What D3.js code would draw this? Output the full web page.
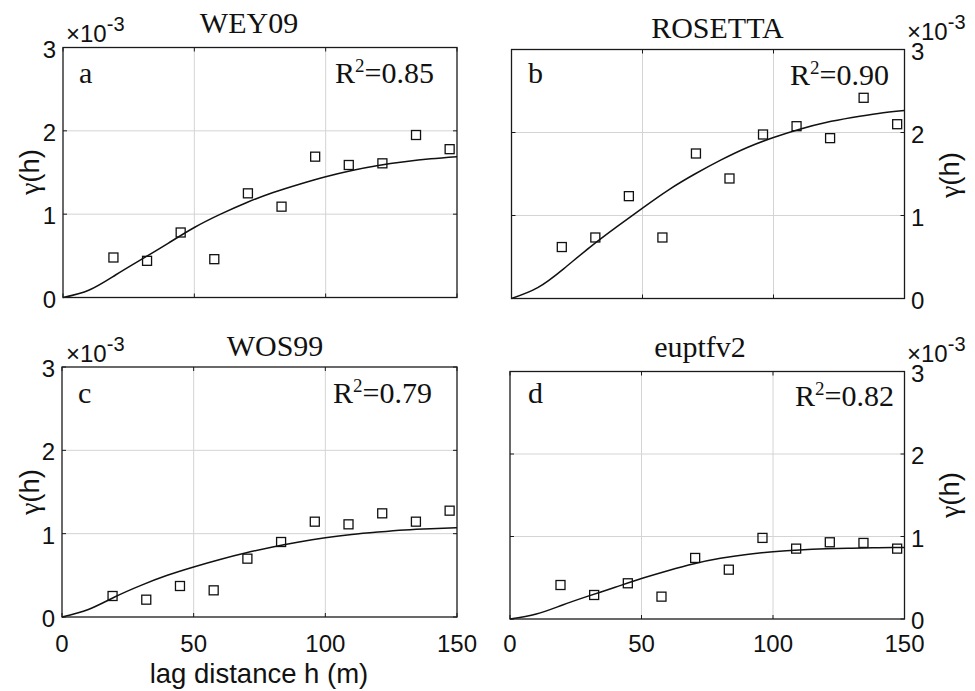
<!DOCTYPE html>
<html>
<head>
<meta charset="utf-8">
<script src="https://cdn.jsdelivr.net/npm/d3@7/dist/d3.min.js"></script>
<style>
  html, body { margin: 0; padding: 0; background: #fff; }
  svg { display: block; }
  .sans { font-family: "Liberation Sans", Arial, Helvetica, sans-serif; }
  .serif { font-family: "Liberation Serif", "Times New Roman", Times, serif; }
</style>
</head>
<body>
<svg id="chart" width="975" height="691"></svg>
<script>
// ---------------- data (semivariance in units of 1e-3) ----------------
const lags = [19.2, 32.0, 44.8, 57.6, 70.4, 83.2, 96.0, 108.8, 121.6, 134.4, 147.2];

const expWEY09    = [0.48, 0.44, 0.78, 0.46, 1.25, 1.09, 1.69, 1.59, 1.61, 1.95, 1.78];
const expROSETTA  = [0.62, 0.735, 1.233, 0.735, 1.747, 1.446, 1.976, 2.076, 1.932, 2.418, 2.10];
const expWOS99    = [0.252, 0.208, 0.372, 0.32, 0.70, 0.90, 1.144, 1.112, 1.244, 1.144, 1.276];
const expEUPTFV2  = [0.412, 0.291, 0.433, 0.271, 0.74, 0.598, 0.983, 0.853, 0.93, 0.922, 0.853];

const modelH        = [0, 10, 20, 30, 40, 50, 60, 70, 80, 90, 100, 110, 120, 130, 140, 150];
const modelWEY09    = [0, 0.09, 0.27, 0.46, 0.65, 0.84, 1.00, 1.14, 1.26, 1.36, 1.45, 1.525, 1.585, 1.63, 1.665, 1.69];
const modelROSETTA  = [0, 0.13, 0.36, 0.62, 0.86, 1.09, 1.31, 1.50, 1.67, 1.82, 1.94, 2.04, 2.12, 2.18, 2.23, 2.265];
const modelWOS99    = [0, 0.09, 0.24, 0.38, 0.50, 0.60, 0.69, 0.77, 0.84, 0.90, 0.95, 0.99, 1.02, 1.045, 1.06, 1.07];
const modelEUPTFV2  = [0, 0.06, 0.17, 0.28, 0.385, 0.49, 0.585, 0.67, 0.735, 0.783, 0.815, 0.837, 0.851, 0.859, 0.864, 0.866];

const titles   = ["WEY09", "ROSETTA", "WOS99", "euptfv2"];
const letters  = ["a", "b", "c", "d"];
const r2Values = ["0.85", "0.90", "0.79", "0.82"];

const xTicks = [0, 50, 100, 150];
const yTicks = [0, 1, 2, 3];
const xDomain = [0, 150];
const yDomain = [0, 3];
const yExponent = "-3";
const xLabel = "lag distance h (m)";

// ---------------- layout ----------------
const layout = [
  { left: 63,    right: 457,   top: 47.5,  bottom: 297.5, side: "left",  xticks: false, xtitle: false,
    title: [249, 33],    letter: [79, 83],   r2: [335, 83],   expo: [66, 41.7],   ylab: [33, 172] },
  { left: 511.5, right: 904.5, top: 49.5,  bottom: 298.5, side: "right", xticks: false, xtitle: false,
    title: [717.5, 38],  letter: [528, 83],  r2: [790, 85],   expo: [907, 40.2],  ylab: [953, 175] },
  { left: 62,    right: 457,   top: 367,   bottom: 617,   side: "left",  xticks: true,  xtitle: true,
    title: [275, 355.5], letter: [78, 403],  r2: [333, 403],  expo: [66, 361.7],  ylab: [33, 492] },
  { left: 510,   right: 904.5, top: 371.5, bottom: 619,   side: "right", xticks: true,  xtitle: false,
    title: [700, 357.3], letter: [528, 403], r2: [795, 405.5],expo: [907, 362],   ylab: [953, 495] }
];
const expSeries = [expWEY09, expROSETTA, expWOS99, expEUPTFV2];
const modelSeries = [modelWEY09, modelROSETTA, modelWOS99, modelEUPTFV2];

const svg = d3.select("#chart");
const axisColor = "#1a1a1a";
const gridColor = "#d4d4d4";
const tickLen = 4;

layout.forEach((L, i) => {
  const x = d3.scaleLinear().domain(xDomain).range([L.left, L.right]);
  const y = d3.scaleLinear().domain(yDomain).range([L.bottom, L.top]);
  const g = svg.append("g");

  // grid
  g.selectAll(".gx").data(xTicks.filter(t => t > xDomain[0] && t < xDomain[1])).enter()
    .append("line").attr("x1", d => x(d)).attr("x2", d => x(d))
    .attr("y1", L.top).attr("y2", L.bottom)
    .attr("stroke", gridColor).attr("stroke-width", 1);
  g.selectAll(".gy").data(yTicks.filter(t => t > yDomain[0] && t < yDomain[1])).enter()
    .append("line").attr("y1", d => y(d)).attr("y2", d => y(d))
    .attr("x1", L.left).attr("x2", L.right)
    .attr("stroke", gridColor).attr("stroke-width", 1);

  // inner ticks (all four sides)
  const tickG = g.append("g").attr("stroke", axisColor).attr("stroke-width", 1);
  xTicks.forEach(t => {
    tickG.append("line").attr("x1", x(t)).attr("x2", x(t)).attr("y1", L.bottom).attr("y2", L.bottom - tickLen);
    tickG.append("line").attr("x1", x(t)).attr("x2", x(t)).attr("y1", L.top).attr("y2", L.top + tickLen);
  });
  yTicks.forEach(t => {
    tickG.append("line").attr("y1", y(t)).attr("y2", y(t)).attr("x1", L.left).attr("x2", L.left + tickLen);
    tickG.append("line").attr("y1", y(t)).attr("y2", y(t)).attr("x1", L.right).attr("x2", L.right - tickLen);
  });

  // model curve
  const line = d3.line().x(d => x(d[0])).y(d => y(d[1])).curve(d3.curveNatural);
  g.append("path")
    .datum(modelH.map((h, k) => [h, modelSeries[i][k]]))
    .attr("d", line)
    .attr("fill", "none").attr("stroke", "#111").attr("stroke-width", 1.5);

  // experimental points (open squares)
  const s = 9;
  g.selectAll(".pt").data(lags.map((h, k) => [h, expSeries[i][k]])).enter()
    .append("rect")
    .attr("x", d => x(d[0]) - s / 2).attr("y", d => y(d[1]) - s / 2)
    .attr("width", s).attr("height", s)
    .attr("fill", "none").attr("stroke", "#111").attr("stroke-width", 1.3);

  // box
  g.append("rect").attr("x", L.left).attr("y", L.top)
    .attr("width", L.right - L.left).attr("height", L.bottom - L.top)
    .attr("fill", "none").attr("stroke", axisColor).attr("stroke-width", 1.3);

  // y tick labels
  const yl = g.append("g").attr("class", "sans").attr("font-size", 24).attr("fill", "#111");
  yTicks.forEach(t => {
    yl.append("text")
      .attr("x", L.side === "left" ? L.left - 7 : L.right + 6.5)
      .attr("y", y(t) + 10)
      .attr("text-anchor", L.side === "left" ? "end" : "start")
      .text(String(t));
  });

  // x tick labels
  if (L.xticks) {
    const xl = g.append("g").attr("class", "sans").attr("font-size", 24).attr("fill", "#111");
    xTicks.forEach(t => {
      xl.append("text").attr("x", x(t)).attr("y", 652).attr("text-anchor", "middle").text(String(t));
    });
  }
  if (L.xtitle) {
    g.append("text").attr("class", "sans").attr("font-size", 27.5).attr("fill", "#111")
      .attr("x", (L.left + L.right) / 2 - 0.5).attr("y", 683).attr("text-anchor", "middle")
      .text(xLabel);
  }

  // exponent label
  const ex = g.append("text").attr("class", "sans").attr("fill", "#111")
    .attr("x", L.expo[0]).attr("y", L.expo[1]);
  ex.append("tspan").attr("font-size", 24).text("\u00D710");
  ex.append("tspan").attr("font-size", 20).attr("dy", -11).text(yExponent);

  // y label  γ(h)
  const yt = g.append("text").attr("fill", "#111")
    .attr("transform", `translate(${L.ylab[0]},${L.ylab[1]}) rotate(-90)`)
    .attr("text-anchor", "middle").attr("dy", "0.35em");
  yt.append("tspan").attr("class", "serif").attr("font-size", 28).text("\u03B3");
  yt.append("tspan").attr("class", "sans").attr("font-size", 27.5).text("(h)");

  // title
  g.append("text").attr("class", "serif").attr("font-size", 30).attr("fill", "#111")
    .attr("x", L.title[0]).attr("y", L.title[1]).attr("text-anchor", "middle")
    .text(titles[i]);

  // panel letter
  g.append("text").attr("class", "serif").attr("font-size", 30).attr("fill", "#111")
    .attr("x", L.letter[0]).attr("y", L.letter[1]).text(letters[i]);

  // R^2
  const r = g.append("text").attr("class", "serif").attr("font-size", 30).attr("fill", "#111")
    .attr("x", L.r2[0]).attr("y", L.r2[1]);
  r.append("tspan").text("R");
  r.append("tspan").attr("font-size", 19).attr("dy", -11).text("2");
  r.append("tspan").attr("dy", 11).text("=" + r2Values[i]);
});
</script>
</body>
</html>
